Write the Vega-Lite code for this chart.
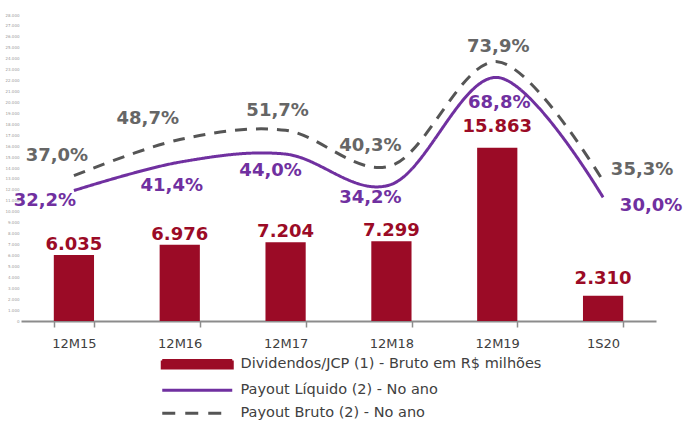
{
  "$schema": "https://vega.github.io/schema/vega-lite/v6.json",
  "width": 635,
  "height": 306,
  "autosize": {"type": "none"},
  "padding": {"left": 21, "top": 15, "right": 30, "bottom": 100},
  "config": {
    "view": {"stroke": null},
    "font": "DejaVu Sans",
    "locale": {"number": {"decimal": ",", "thousands": ".", "grouping": [3], "currency": ["R$", ""]}}
  },
  "datasets": {
    "div": [
      {"periodo": "12M15", "valor": 6035, "serie": "Dividendos/JCP (1) - Bruto em R$ milhões"},
      {"periodo": "12M16", "valor": 6976, "serie": "Dividendos/JCP (1) - Bruto em R$ milhões"},
      {"periodo": "12M17", "valor": 7204, "serie": "Dividendos/JCP (1) - Bruto em R$ milhões"},
      {"periodo": "12M18", "valor": 7299, "serie": "Dividendos/JCP (1) - Bruto em R$ milhões"},
      {"periodo": "12M19", "valor": 15863, "serie": "Dividendos/JCP (1) - Bruto em R$ milhões"},
      {"periodo": "1S20", "valor": 2310, "serie": "Dividendos/JCP (1) - Bruto em R$ milhões"}
    ],
    "payout": [
      {"periodo": "12M15", "payout": 0.322, "serie": "Payout Líquido (2) - No ano"},
      {"periodo": "12M16", "payout": 0.414, "serie": "Payout Líquido (2) - No ano"},
      {"periodo": "12M17", "payout": 0.440, "serie": "Payout Líquido (2) - No ano"},
      {"periodo": "12M18", "payout": 0.342, "serie": "Payout Líquido (2) - No ano"},
      {"periodo": "12M19", "payout": 0.688, "serie": "Payout Líquido (2) - No ano"},
      {"periodo": "1S20", "payout": 0.300, "serie": "Payout Líquido (2) - No ano"},
      {"periodo": "12M15", "payout": 0.370, "serie": "Payout Bruto (2) - No ano"},
      {"periodo": "12M16", "payout": 0.487, "serie": "Payout Bruto (2) - No ano"},
      {"periodo": "12M17", "payout": 0.517, "serie": "Payout Bruto (2) - No ano"},
      {"periodo": "12M18", "payout": 0.403, "serie": "Payout Bruto (2) - No ano"},
      {"periodo": "12M19", "payout": 0.739, "serie": "Payout Bruto (2) - No ano"},
      {"periodo": "1S20", "payout": 0.353, "serie": "Payout Bruto (2) - No ano"}
    ]
  },
  "encoding": {
    "x": {
      "field": "periodo",
      "type": "nominal",
      "sort": null,
      "scale": {"paddingInner": 0.62, "paddingOuter": 0.31},
      "axis": {
        "title": null,
        "labelAngle": 0,
        "labelFont": "DejaVu Sans",
        "labelFontSize": 13,
        "labelColor": "#404040",
        "labelPadding": 10,
        "domainColor": "#8C8C8C",
        "domainWidth": 2,
        "tickColor": "#8C8C8C",
        "tickWidth": 1.5,
        "tickSize": 6,
        "tickBand": "extent"
      }
    }
  },
  "layer": [
    {
      "data": {"name": "div"},
      "encoding": {
        "y": {
          "field": "valor",
          "type": "quantitative",
          "scale": {"domain": [0, 28000], "nice": false},
          "axis": {
            "title": null,
            "values": [0, 1000, 2000, 3000, 4000, 5000, 6000, 7000, 8000, 9000, 10000, 11000, 12000, 13000, 14000, 15000, 16000, 17000, 18000, 19000, 20000, 21000, 22000, 23000, 24000, 25000, 26000, 27000, 28000],
            "format": ",.0f",
            "labelFontSize": 4,
            "labelColor": "#9A9A9A",
            "labelPadding": 2,
            "ticks": false,
            "domain": false,
            "grid": false
          }
        }
      },
      "layer": [
        {
          "mark": {"type": "bar"},
          "encoding": {
            "color": {
              "field": "serie",
              "type": "nominal",
              "scale": {
                "domain": ["Dividendos/JCP (1) - Bruto em R$ milhões", "Payout Líquido (2) - No ano", "Payout Bruto (2) - No ano"],
                "range": ["#9B0B26", "#7030A0", "#555555"]
              },
              "legend": {
                "orient": "none",
                "legendX": 169,
                "legendY": 342,
                "title": null,
                "padding": 0,
                "symbolSize": 100,
                "labelOffset": 36,
                "labelLimit": 0,
                "labelFont": "DejaVu Sans",
                "labelFontSize": 14.5,
                "labelColor": "#404040",
                "rowPadding": 8,
                "encode": {
                  "symbols": {
                    "update": {
                      "shape": {"signal": "datum.value == 'Dividendos/JCP (1) - Bruto em R$ milhões' ? 'M-7,-0.75H7V0.75H-7Z' : (datum.value == 'Payout Bruto (2) - No ano' ? 'M-7,0H5.8' : 'M-7,0H7')"},
                      "fill": {"signal": "datum.value == 'Dividendos/JCP (1) - Bruto em R$ milhões' ? '#9B0B26' : 'transparent'"},
                      "stroke": {"signal": "datum.value == 'Dividendos/JCP (1) - Bruto em R$ milhões' ? 'transparent' : (datum.value == 'Payout Bruto (2) - No ano' ? '#555555' : '#7030A0')"},
                      "strokeWidth": {"value": 3},
                      "strokeDash": {"signal": "datum.value == 'Payout Bruto (2) - No ano' ? [13, 10] : [1, 0]"},
                      "size": {"value": 100},
                      "opacity": {"value": 1}
                    }
                  }
                }
              }
            }
          }
        },
        {
          "mark": {
            "type": "text",
            "font": "DejaVu Sans",
            "fontSize": 18,
            "fontWeight": "bold",
            "color": "#9B0B26",
            "align": "center",
            "baseline": "alphabetic",
            "dy": {"expr": "datum.valor > 15000 ? -16 : (datum.valor < 3000 ? -12 : -5)"}
          },
          "encoding": {
            "text": {"field": "valor", "type": "quantitative", "format": ",.0f"}
          }
        }
      ]
    },
    {
      "data": {"name": "payout"},
      "encoding": {
        "y": {
          "field": "payout",
          "type": "quantitative",
          "scale": {"domain": [-0.1, 0.89], "nice": false, "zero": false},
          "axis": null
        }
      },
      "layer": [
        {
          "mark": {"type": "line", "interpolate": "cardinal", "strokeWidth": 3},
          "encoding": {
            "color": {"field": "serie", "type": "nominal"},
            "strokeDash": {
              "field": "serie",
              "type": "nominal",
              "scale": {"domain": ["Payout Líquido (2) - No ano", "Payout Bruto (2) - No ano"], "range": [[1, 0], [12, 9]]},
              "legend": null
            }
          }
        },
        {
          "mark": {
            "type": "text",
            "font": "DejaVu Sans",
            "fontSize": 18,
            "fontWeight": "bold",
            "align": "center",
            "baseline": "middle",
            "dx": {"expr": "datum.serie == 'Payout Líquido (2) - No ano' ? [-29, -8, -15, -21, 2, 48][indexof(['12M15','12M16','12M17','12M18','12M19','1S20'], datum.periodo)] : [-17, -32, -8, -21, 1, 39][indexof(['12M15','12M16','12M17','12M18','12M19','1S20'], datum.periodo)]"},
            "dy": {"expr": "datum.serie == 'Payout Líquido (2) - No ano' ? [10, 24, 17, 14, 26, 9][indexof(['12M15','12M16','12M17','12M18','12M19','1S20'], datum.periodo)] : [-20, -21, -19, -19.5, -15, -10.5][indexof(['12M15','12M16','12M17','12M18','12M19','1S20'], datum.periodo)]"}
          },
          "encoding": {
            "text": {"field": "payout", "type": "quantitative", "format": ".1%"},
            "color": {
              "condition": {"test": "datum.serie == 'Payout Bruto (2) - No ano'", "value": "#666666"},
              "value": "#7030A0"
            }
          }
        }
      ]
    }
  ],
  "resolve": {"scale": {"y": "independent"}}
}
